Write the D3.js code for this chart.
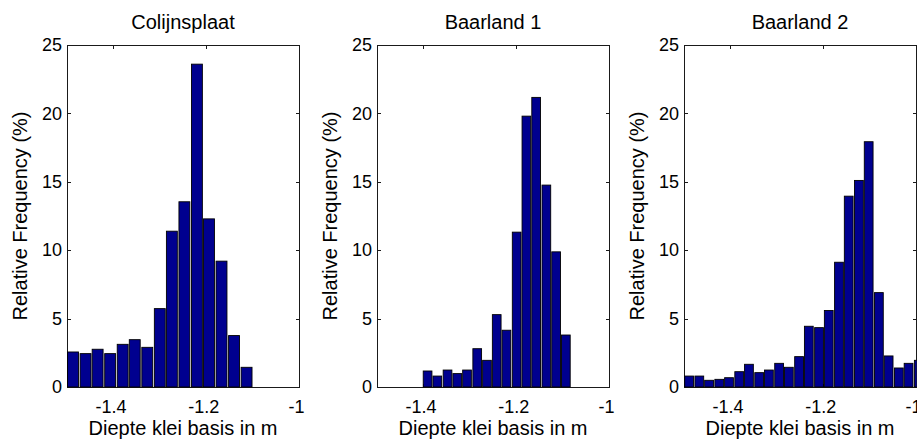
<!DOCTYPE html>
<html>
<head>
<meta charset="utf-8">
<script src="https://cdn.jsdelivr.net/npm/d3@7"></script>
<style>
  body { margin: 0; background: #fff; }
  svg { display: block; font-family: "Liberation Sans", Arial, sans-serif; }
</style>
</head>
<body>
<div id="chart"></div>
<script>
const FRAME_WIDTH = 917;
const FRAME_HEIGHT = 440;

// panel titles
const TITLES = ["Colijnsplaat", "Baarland 1", "Baarland 2"];

// bin centres (m) and relative frequencies (%)
const COLIJNSPLAAT_BINS = [-1.487, -1.460, -1.434, -1.407, -1.380, -1.354, -1.327, -1.300,
                           -1.274, -1.247, -1.220, -1.194, -1.167, -1.140, -1.113];
const COLIJNSPLAAT_FREQ = [2.56, 2.44, 2.76, 2.44, 3.12, 3.46, 2.90, 5.73,
                           11.39, 13.54, 23.6, 12.29, 9.20, 3.76, 1.44];

const BAARLAND1_BINS = [-1.391, -1.370, -1.348, -1.327, -1.306, -1.284, -1.263, -1.242,
                        -1.221, -1.199, -1.178, -1.157, -1.135, -1.114, -1.093];
const BAARLAND1_FREQ = [1.17, 0.80, 1.24, 0.98, 1.24, 2.80, 1.95, 5.29,
                        4.15, 11.32, 19.80, 21.17, 14.76, 9.88, 3.80];

const BAARLAND2_BINS = [-1.489, -1.467, -1.446, -1.424, -1.403, -1.381, -1.360, -1.338,
                        -1.317, -1.295, -1.274, -1.252, -1.231, -1.209, -1.188, -1.166,
                        -1.145, -1.123, -1.102, -1.080, -1.059, -1.037, -1.016, -0.994];
const BAARLAND2_FREQ = [0.80, 0.80, 0.49, 0.56, 0.68, 1.12, 1.66, 1.05,
                        1.24, 1.73, 1.44, 2.22, 4.44, 4.34, 5.59, 9.12,
                        13.95, 15.10, 17.93, 6.90, 2.27, 1.39, 1.73, 1.95];

const BIN_WIDTHS = [0.0267, 0.0213, 0.0215];

// axis ticks
const X_TICKS = [-1.4, -1.2, -1];
const Y_TICKS = [0, 5, 10, 15, 20, 25];
const X_DOMAIN = [-1.5, -1];
const Y_DOMAIN = [0, 25];

const X_LABEL = "Diepte klei basis in m";
const Y_LABEL = "Relative Frequency (%)";

// layout
const PANEL_LEFTS = [67, 377, 684];
const PANEL_TOP = 45;
const VIS_WIDTH = 232;
const VIS_HEIGHT = 342;
const BAR_FILL = "#00008f";
const TICK_LEN = 3.5;

const PANELS = [
  {title: TITLES[0], bins: COLIJNSPLAAT_BINS, freq: COLIJNSPLAAT_FREQ, bw: BIN_WIDTHS[0], left: PANEL_LEFTS[0]},
  {title: TITLES[1], bins: BAARLAND1_BINS, freq: BAARLAND1_FREQ, bw: BIN_WIDTHS[1], left: PANEL_LEFTS[1]},
  {title: TITLES[2], bins: BAARLAND2_BINS, freq: BAARLAND2_FREQ, bw: BIN_WIDTHS[2], left: PANEL_LEFTS[2]}
];

const FRAME = d3.select("#chart")
                .append("svg")
                  .attr("width", FRAME_WIDTH)
                  .attr("height", FRAME_HEIGHT);

function build_panel(p, i) {
  const X_SCALE = d3.scaleLinear().domain(X_DOMAIN).range([0, VIS_WIDTH]);
  const Y_SCALE = d3.scaleLinear().domain(Y_DOMAIN).range([VIS_HEIGHT, 0]);

  const g = FRAME.append("g")
                 .attr("transform", "translate(" + p.left + "," + PANEL_TOP + ")");

  g.append("clipPath")
     .attr("id", "clip" + i)
   .append("rect")
     .attr("x", 0)
     .attr("y", -1)
     .attr("width", VIS_WIDTH + 0.5)
     .attr("height", VIS_HEIGHT + 2);

  const fmt = (d) => String(d);

  // axes box (drawn under the bars like matlab)
  const bottom = g.append("g")
     .attr("transform", "translate(0," + VIS_HEIGHT + ")")
     .call(d3.axisBottom(X_SCALE).tickValues(X_TICKS).tickFormat(fmt)
             .tickSizeInner(-TICK_LEN).tickSizeOuter(0).tickPadding(13));
  bottom.selectAll("text").attr("dx", -3);

  g.append("g")
     .call(d3.axisTop(X_SCALE).tickValues(X_TICKS).tickFormat("")
             .tickSizeInner(-TICK_LEN).tickSizeOuter(0));

  g.append("g")
     .call(d3.axisLeft(Y_SCALE).tickValues(Y_TICKS)
             .tickSizeInner(-TICK_LEN).tickSizeOuter(0).tickPadding(5));

  g.append("g")
     .attr("transform", "translate(" + VIS_WIDTH + ",0)")
     .call(d3.axisRight(Y_SCALE).tickValues(Y_TICKS).tickFormat("")
             .tickSizeInner(-TICK_LEN).tickSizeOuter(0));

  g.selectAll(".domain, .tick line").attr("stroke", "#1a1a1a").attr("shape-rendering", "crispEdges");
  g.selectAll(".tick text").attr("font-size", "18px").attr("fill", "#000")
     .attr("font-family", "'Liberation Sans', Arial, sans-serif");

  // bars
  const data = p.bins.map((b, k) => ({bin: b, freq: p.freq[k]}));
  const half = p.bw * 0.88 / 2;
  g.append("g")
     .attr("clip-path", "url(#clip" + i + ")")
     .selectAll(".bar")
     .data(data)
     .enter()
     .append("rect")
       .attr("class", "bar")
       .attr("x", (d) => X_SCALE(d.bin - half))
       .attr("width", (d) => X_SCALE(d.bin + half) - X_SCALE(d.bin - half))
       .attr("y", (d) => Y_SCALE(d.freq))
       .attr("height", (d) => Y_SCALE(0) - Y_SCALE(d.freq))
       .attr("fill", BAR_FILL)
       .attr("stroke", "#000")
       .attr("stroke-width", 0.9);

  // title and labels
  g.append("text")
     .attr("x", VIS_WIDTH / 2)
     .attr("y", 29 - PANEL_TOP)
     .attr("text-anchor", "middle")
     .attr("font-size", "20px")
     .text(p.title);

  g.append("text")
     .attr("x", VIS_WIDTH / 2)
     .attr("y", 435 - PANEL_TOP)
     .attr("text-anchor", "middle")
     .attr("font-size", "20px")
     .text(X_LABEL);

  g.append("text")
     .attr("transform", "translate(-40," + (VIS_HEIGHT / 2) + ") rotate(-90)")
     .attr("text-anchor", "middle")
     .attr("font-size", "20px")
     .text(Y_LABEL);
}

PANELS.forEach(build_panel);
</script>
</body>
</html>
